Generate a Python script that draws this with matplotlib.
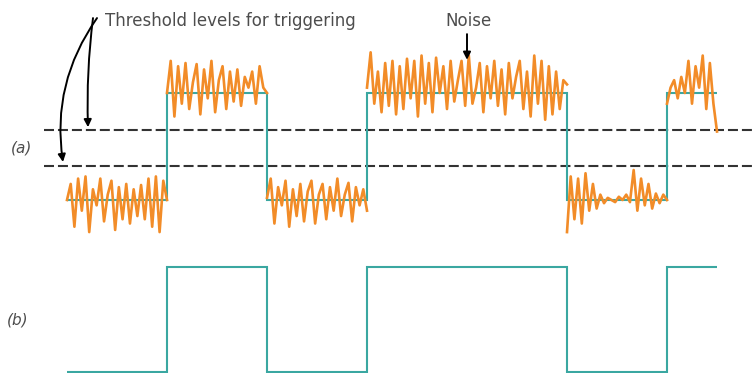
import numpy as np
import matplotlib
matplotlib.use('Agg')
import matplotlib.pyplot as plt

# bit edges (in bit periods) and logic levels of the clean square wave
edges = [0, 1, 2, 3, 5, 6, 6.5]
levels = [0, 1, 0, 1, 0, 1]

# trigger thresholds (fraction of the high level)
thresholds = [0.654, 0.318]

# noise riding on each level
noise_1 = [0.0, 0.15, -0.25, 0.2, -0.1, 0.22, -0.3, 0.1, -0.05, 0.2, -0.2, 0.05, 0.18, -0.28,
           0.12, -0.18, 0.15, -0.22, 0.1, -0.15, 0.14, -0.18, 0.2, -0.25, 0.22, -0.3, 0.18, 0.0]
noise_2 = [0.0, 0.3, -0.22, 0.25, -0.1, 0.28, -0.15, 0.1, 0.27, -0.2, 0.22, -0.05, 0.3, -0.18,
           0.12, 0.25, -0.15, 0.2, -0.08, 0.22, -0.12, 0.15, 0.05, 0.2, -0.1, 0.25, 0.05, 0.0]
noise_3 = [0.02, 0.2, -0.22, 0.12, -0.05, 0.18, -0.25, 0.1, -0.15, 0.15, -0.2, 0.08, 0.18, -0.22,
           0.05, 0.15, -0.18, 0.12, -0.1, 0.2, -0.15, 0.05, 0.16, -0.2, 0.12, -0.05, 0.1, -0.1]
noise_4 = [0.05, 0.38, -0.1, 0.2, -0.18, 0.28, -0.12, 0.3, -0.2, 0.25, -0.15, 0.32, -0.05, 0.3,
           -0.22, 0.35, -0.1, 0.28, -0.18, 0.33, 0.0, 0.25, -0.15, 0.3, -0.08, 0.12, 0.3, -0.12,
           0.35, -0.1, 0.05, 0.28, -0.18, 0.25, -0.05, 0.3, -0.12, 0.22, -0.2, 0.28, -0.05, 0.15,
           0.3, -0.15, 0.2, -0.22, 0.35, -0.1, 0.3, -0.25, 0.25, -0.2, 0.2, -0.15, 0.12, 0.08]
noise_5 = [-0.3, 0.22, -0.18, 0.2, -0.22, 0.25, -0.1, 0.15, -0.08, 0.05, -0.03, 0.02, 0.0, -0.02,
           0.03, 0.0, 0.05, -0.02, 0.28, -0.1, 0.2, -0.05, 0.15, -0.08, 0.06, -0.03, 0.05, 0.0]
noise_6 = [-0.1, 0.05, 0.12, -0.05, 0.15, 0.0, 0.3, -0.1, 0.25, 0.05, 0.35, -0.15, 0.28, -0.1,
           -0.36]
noise = [noise_1, noise_2, noise_3, noise_4, noise_5, noise_6]

teal = '#3aa7a1'
orange = '#f28c28'
gray = '#4d4d4d'

fig = plt.figure(figsize=(7.53, 3.73), dpi=100)
ax_a = fig.add_axes([0, 133 / 373, 1, 240 / 373])
ax_b = fig.add_axes([0, 0, 1, 133 / 373])
for ax in (ax_a, ax_b):
    ax.set_xlim(-0.67, 6.86)
    ax.axis('off')
ax_a.set_ylim(-0.374, 1.869)
ax_b.set_ylim(-0.0095, 1.257)

# (a) noisy signal with threshold levels
for th in thresholds:
    ax_a.plot([-0.23, 6.86], [th, th], color='#333333', lw=1.5, dashes=(4.8, 1.9), zorder=1)
ax_a.stairs(levels, edges, baseline=None, color=teal, lw=1.5, zorder=2)
for i, seg in enumerate(noise):
    t = np.linspace(edges[i], edges[i + 1], len(seg))
    ax_a.plot(t, levels[i] + np.array(seg), color=orange, lw=1.9, zorder=3)

arrow = dict(arrowstyle='-|>', color='black', lw=1.4, mutation_scale=11, shrinkA=0, shrinkB=0)
ax_a.annotate('', xy=(-0.04, 0.355), xytext=(0.30, 1.70),
              arrowprops=dict(arrow, connectionstyle='arc3,rad=0.2'))
ax_a.annotate('', xy=(0.21, 0.68), xytext=(0.26, 1.70),
              arrowprops=dict(arrow, connectionstyle='arc3,rad=0.04'))
ax_a.text(0.38, 1.629, 'Threshold levels for triggering', color=gray, fontsize=12,
          ha='left', va='baseline')
ax_a.annotate('', xy=(4.0, 1.31), xytext=(4.0, 1.55), arrowprops=arrow)
ax_a.text(4.02, 1.629, 'Noise', color=gray, fontsize=12, ha='center', va='baseline')
ax_a.text(-0.45, 0.486, '(a)', color=gray, fontsize=11, style='italic', ha='center', va='center')

# (b) regenerated output
ax_b.stairs(levels, edges, baseline=None, color=teal, lw=1.5, clip_on=False)
ax_b.text(-0.49, 0.495, '(b)', color=gray, fontsize=11, style='italic', ha='center', va='center')

fig.savefig('out.png', dpi=100)
